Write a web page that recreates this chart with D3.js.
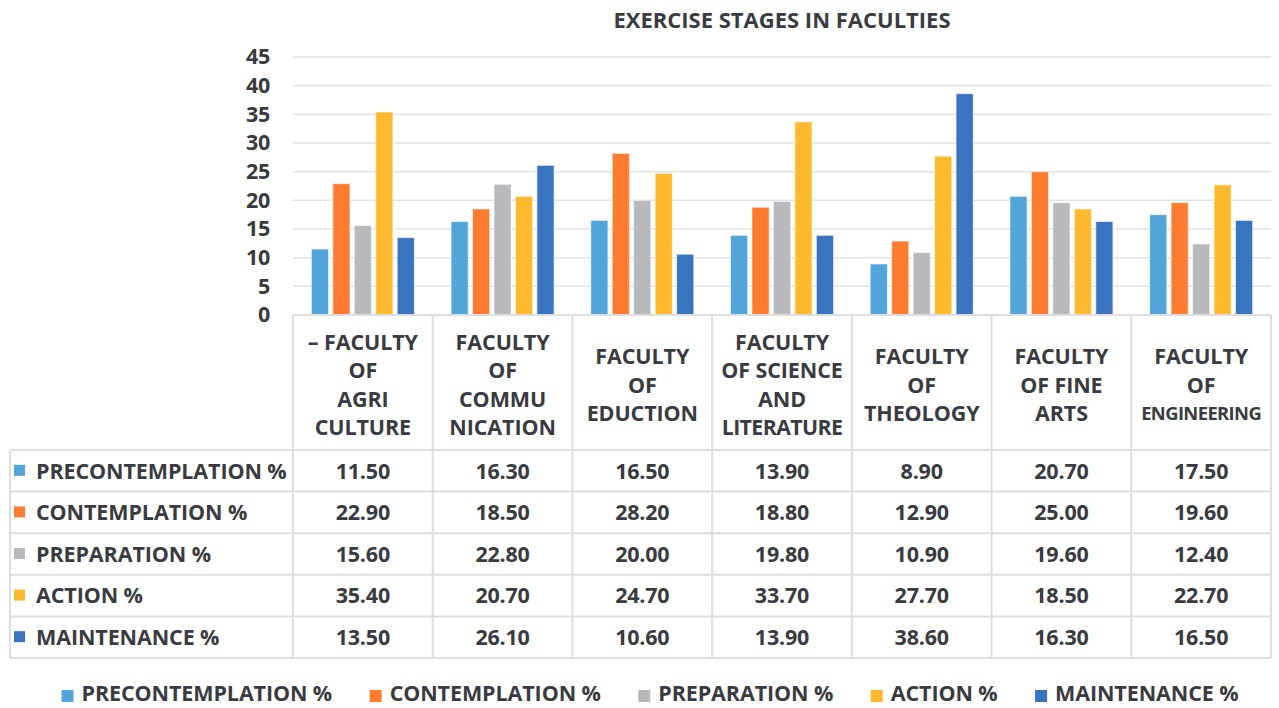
<!DOCTYPE html>
<html><head><meta charset="utf-8">
<script src="https://cdn.jsdelivr.net/npm/d3@7"></script>
<style>
html,body{margin:0;padding:0;background:#fff;}
svg{display:block;font-family:"Open Sans",sans-serif;font-weight:700;}
</style></head>
<body><svg id="c" width="1279" height="708"></svg>
<script>
const title = "EXERCISE STAGES IN FACULTIES";
const categories = [
  ["– FACULTY","OF","AGRI","CULTURE"],
  ["FACULTY","OF","COMMU","NICATION"],
  ["FACULTY","OF","EDUCTION"],
  ["FACULTY","OF SCIENCE","AND","LITERATURE"],
  ["FACULTY","OF","THEOLOGY"],
  ["FACULTY","OF FINE","ARTS"],
  ["FACULTY","OF","ENGINEERING"]
];
const seriesNames = ["PRECONTEMPLATION %","CONTEMPLATION %","PREPARATION %","ACTION %","MAINTENANCE %"];
const colors = ["#52a5db","#ff7b30","#b8b9bc","#ffb92e","#3a73c0"];
const precontemplation = [11.5,16.3,16.5,13.9,8.9,20.7,17.5];
const contemplation    = [22.9,18.5,28.2,18.8,12.9,25.0,19.6];
const preparation      = [15.6,22.8,20.0,19.8,10.9,19.6,12.4];
const action           = [35.4,20.7,24.7,33.7,27.7,18.5,22.7];
const maintenance      = [13.5,26.1,10.6,13.9,38.6,16.3,16.5];
const yTicks = [0,5,10,15,20,25,30,35,40,45];

const series = [precontemplation,contemplation,preparation,action,maintenance];
const svg = d3.select("#c");
const txt = "#3a3b40";
const grid = "#e2e2e2";
const fs = 21.5, ls = "-0.1";

const pLeft = 293, pRight = 1271, pTop = 57, pBottom = 315;
const x0 = d3.scaleBand().domain(d3.range(categories.length)).range([pLeft,pRight]);
const x1 = d3.scaleBand().domain(d3.range(series.length)).range([0,x0.bandwidth()]).paddingInner(0.2).paddingOuter(0.855);
const y = d3.scaleLinear().domain([0,45]).range([pBottom,pTop]);

svg.append("text").attr("x",(pLeft+pRight)/2).attr("y",20).attr("dy","0.36em").attr("text-anchor","middle")
  .attr("font-size",22).attr("fill",txt).attr("letter-spacing","0").text(title);

// gridlines
svg.append("g").selectAll("line").data(yTicks.filter(d=>d>0)).join("line")
  .attr("x1",pLeft).attr("x2",pRight).attr("y1",d=>y(d)).attr("y2",d=>y(d))
  .attr("stroke",grid).attr("stroke-width",1.5);

// y axis labels
const yAxis = d3.axisLeft(y).tickValues(yTicks).tickSize(0).tickPadding(0);
const ya = svg.append("g").attr("transform",`translate(${270},0)`).call(yAxis);
ya.select(".domain").remove();
ya.selectAll("text").attr("font-size",fs).attr("fill",txt).attr("font-family","Open Sans").attr("font-weight",700).attr("letter-spacing","-0.3");

// bars
const g = svg.append("g");
categories.forEach((c,i)=>{
  series.forEach((s,j)=>{
    g.append("rect").attr("x",x0(i)+x1(j)).attr("y",y(s[i]))
      .attr("width",x1.bandwidth()).attr("height",y(0)-y(s[i]))
      .attr("fill",colors[j]).attr("stroke","#ffffff").attr("stroke-opacity",0.6).attr("stroke-width",1);
  });
});

// data table
const tableLeft = 10, headerBottom = 450, rowH = 41.6;
const rowsBottom = headerBottom + rowH*series.length;
const tb = svg.append("g");
const bc = "#dedede", bw = 2;
tb.append("line").attr("x1",pLeft).attr("x2",pRight).attr("y1",pBottom).attr("y2",pBottom).attr("stroke",bc).attr("stroke-width",bw);
for(let r=0;r<=series.length;r++){
  const yy = headerBottom + r*rowH;
  tb.append("line").attr("x1",tableLeft).attr("x2",pRight).attr("y1",yy).attr("y2",yy).attr("stroke",bc).attr("stroke-width",bw);
}
tb.append("line").attr("x1",tableLeft).attr("x2",tableLeft).attr("y1",headerBottom).attr("y2",rowsBottom).attr("stroke",bc).attr("stroke-width",bw);
for(let i=0;i<=categories.length;i++){
  const xx = pLeft + i*x0.step();
  tb.append("line").attr("x1",xx).attr("x2",xx).attr("y1",pBottom).attr("y2",rowsBottom).attr("stroke",bc).attr("stroke-width",bw);
}
categories.forEach((lines,i)=>{
  const cx = x0(i)+x0.bandwidth()/2;
  const lh = 28.5;
  const cy = (pBottom+headerBottom)/2 + 2.5;
  const start = cy - (lines.length-1)*lh/2;
  lines.forEach((l,k)=>{
    const t = tb.append("text").attr("x",cx).attr("y",start+k*lh).attr("dy","0.36em").attr("text-anchor","middle")
      .attr("font-size",fs).attr("fill",txt).attr("letter-spacing",ls).text(l);
    const maxW = x0.bandwidth() - 14;
    const w = t.node().getComputedTextLength();
    if (w > maxW) {
      t.attr("letter-spacing","-0.6").attr("font-size", fs * maxW / w);
    }
  });
});
series.forEach((s,j)=>{
  const cy = headerBottom + rowH*j + rowH/2;
  tb.append("rect").attr("x",14).attr("y",cy-6).attr("width",11).attr("height",11).attr("fill",colors[j]);
  tb.append("text").attr("x",36).attr("y",cy).attr("dy","0.36em").attr("font-size",fs).attr("fill",txt)
    .attr("letter-spacing",ls).text(seriesNames[j]);
  s.forEach((v,i)=>{
    tb.append("text").attr("x",x0(i)+x0.bandwidth()/2).attr("y",cy).attr("dy","0.36em").attr("text-anchor","middle")
      .attr("font-size",fs).attr("fill",txt).attr("letter-spacing","-0.2").text(v.toFixed(2));
  });
});

// legend
const lg = svg.append("g");
const legY = 693.5;
const items = [];
seriesNames.forEach((n,j)=>{
  const it = lg.append("g");
  it.append("rect").attr("x",0).attr("y",-6+2.5).attr("width",12).attr("height",12).attr("fill",colors[j]);
  const t = it.append("text").attr("x",20).attr("y",0).attr("dy","0.36em").attr("font-size",fs).attr("fill",txt)
    .attr("letter-spacing",ls).text(n);
  const w = 20 + t.node().getComputedTextLength();
  items.push({it, w});
});
const gap = 37.5;
const total = d3.sum(items,d=>d.w) + gap*(items.length-1);
let cur = 650 - total/2;
items.forEach(d=>{ d.it.attr("transform",`translate(${cur},${legY})`); cur += d.w + gap; });
</script></body></html>
